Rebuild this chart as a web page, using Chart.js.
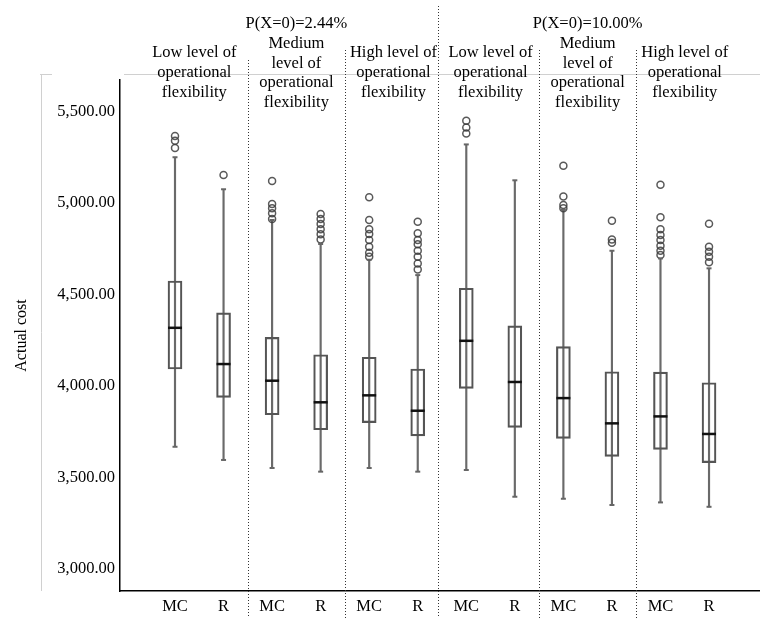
<!DOCTYPE html>
<html>
<head>
<meta charset="utf-8">
<script src="https://cdn.jsdelivr.net/npm/chart.js@4.4.0/dist/chart.umd.min.js"></script>
<style>
  body { margin: 0; background: #fff; }
  canvas { display: block; }
</style>
</head>
<body>
<canvas id="chart" width="760" height="618"></canvas>
<script>
// Box plot of actual cost, MC vs R, per flexibility level and P(X=0) scenario

const categories = ['MC', 'R', 'MC', 'R', 'MC', 'R', 'MC', 'R', 'MC', 'R', 'MC', 'R']
const whiskerLow = [3668, 3596, 3552, 3532, 3552, 3532, 3541, 3395, 3384, 3350, 3364, 3340]
const q1 = [4093, 3938, 3843, 3761, 3800, 3728, 3987, 3774, 3714, 3616, 3654, 3581]
const median = [4318, 4120, 4029, 3911, 3949, 3865, 4247, 4022, 3934, 3796, 3834, 3738]
const q3 = [4574, 4400, 4266, 4171, 4157, 4093, 4534, 4329, 4215, 4078, 4076, 4018]
const whiskerHigh = [5250, 5075, 4907, 4776, 4690, 4606, 5320, 5124, 4962, 4739, 4697, 4643]
const outliers = [
  [5300, 5340, 5366],
  [5153],
  [4912, 4944, 4971, 4994, 5120],
  [4801, 4829, 4856, 4885, 4912, 4940],
  [4706, 4728, 4761, 4798, 4830, 4856, 4907, 5031],
  [4637, 4670, 4706, 4739, 4774, 4798, 4834, 4898],
  [5380, 5413, 5450],
  [],
  [4971, 4989, 5035, 5204],
  [4783, 4801, 4903],
  [4716, 4739, 4767, 4798, 4825, 4856, 4922, 5100],
  [4676, 4706, 4734, 4761, 4887],
]
const yTicks = [3000, 3500, 4000, 4500, 5000, 5500]
const scenarios = ['P(X=0)=2.44%', 'P(X=0)=10.00%']
const groupLabels = [
  ['Low level of', 'operational', 'flexibility'],
  ['Medium', 'level of', 'operational', 'flexibility'],
  ['High level of', 'operational', 'flexibility'],
  ['Low level of', 'operational', 'flexibility'],
  ['Medium', 'level of', 'operational', 'flexibility'],
  ['High level of', 'operational', 'flexibility'],
]

const SERIF = "'Liberation Serif','DejaVu Serif',serif"
const pos = categories.map((c, i) => i + 1)

// frame lines, dividers and header texts
const decor = {
  id: 'decor',
  beforeDraw(chart) {
    const ctx = chart.ctx
    ctx.save()
    ctx.strokeStyle = '#d0d0d0'
    ctx.lineWidth = 1
    ctx.beginPath()
    ctx.moveTo(40, 74.5); ctx.lineTo(52, 74.5)
    ctx.moveTo(124, 74.5); ctx.lineTo(760, 74.5)
    ctx.moveTo(41.5, 74); ctx.lineTo(41.5, 591)
    ctx.stroke()
    ctx.restore()
  },
  afterDraw(chart) {
    const ctx = chart.ctx
    const x = chart.scales.x
    ctx.save()
    ctx.strokeStyle = '#333'
    ctx.lineWidth = 1
    ctx.setLineDash([1, 2])
    const dividers = [[2.5, 60], [4.5, 50], [6.42, 6], [8.5, 50], [10.5, 50]]
    dividers.forEach(([v, top]) => {
      const px = Math.round(x.getPixelForValue(v)) + 0.5
      ctx.beginPath()
      ctx.moveTo(px, top)
      ctx.lineTo(px, 618)
      ctx.stroke()
    })
    ctx.setLineDash([])
    ctx.fillStyle = '#000'
    ctx.font = '16.5px ' + SERIF
    ctx.textAlign = 'center'
    ctx.textBaseline = 'middle'
    scenarios.forEach((s, i) => {
      ctx.fillText(s, x.getPixelForValue(3.5 + i * 6), 24)
    })
    groupLabels.forEach((lines, i) => {
      const cx = x.getPixelForValue(1.5 + i * 2) - (i === 0 ? 5 : 0)
      const top = lines.length === 4 ? 43.5 : 53
      lines.forEach((t, j) => ctx.fillText(t, cx, top + j * 19.8))
    })
    ctx.restore()
  },
}

const outlierPoints = []
outliers.forEach((list, i) => list.forEach(v => outlierPoints.push({ x: pos[i], y: v })))

new Chart(document.getElementById('chart'), {
  type: 'bar',
  data: {
    datasets: [
      {
        type: 'scatter',
        data: pos.map((p, i) => ({ x: p, y: median[i] })),
        pointStyle: 'line',
        radius: 7,
        borderWidth: 2.5,
        borderColor: '#111',
      },
      {
        type: 'scatter',
        data: pos.map((p, i) => ({ x: p, y: whiskerLow[i] })).concat(pos.map((p, i) => ({ x: p, y: whiskerHigh[i] }))),
        pointStyle: 'line',
        radius: 2.5,
        borderWidth: 2,
        borderColor: '#666',
      },
      {
        type: 'scatter',
        data: outlierPoints,
        pointStyle: 'circle',
        radius: 3.5,
        borderWidth: 1.5,
        borderColor: 'rgba(60,60,60,0.85)',
        backgroundColor: 'rgba(255,255,255,0)',
      },
      {
        data: pos.map((p, i) => ({ x: p, y: [q1[i], q3[i]] })),
        backgroundColor: 'rgba(255,255,255,0)',
        borderColor: '#555',
        borderWidth: 1.5,
        borderSkipped: false,
        barThickness: 14,
        grouped: false,
      },
      {
        data: pos.map((p, i) => ({ x: p, y: [whiskerLow[i], whiskerHigh[i]] })),
        backgroundColor: '#6a6a6a',
        borderWidth: 0,
        barThickness: 1.5,
        grouped: false,
      },
    ],
  },
  options: {
    responsive: false,
    animation: false,
    devicePixelRatio: 1,
    layout: { autoPadding: false, padding: { top: 80, right: 0, bottom: 0, left: 0 } },
    plugins: { legend: { display: false }, tooltip: { enabled: false } },
    scales: {
      x: {
        type: 'linear',
        offset: false,
        min: -0.133,
        max: 13.05,
        grid: { display: false, drawTicks: false },
        border: { display: true, color: '#000', width: 1.5 },
        afterBuildTicks: s => { s.ticks = pos.map(v => ({ value: v })) },
        afterFit: s => { s.height = 27 },
        ticks: {
          padding: 6,
          color: '#000',
          font: { family: SERIF, size: 16.5 },
          maxRotation: 0,
          autoSkip: false,
          callback: v => categories[v - 1],
        },
      },
      y: {
        min: 2880,
        max: 5672,
        grid: { display: false, drawTicks: false },
        border: { display: true, color: '#000', width: 1.5 },
        afterBuildTicks: s => { s.ticks = yTicks.map(v => ({ value: v })) },
        afterFit: s => { s.width = 120 },
        title: {
          display: true,
          text: 'Actual cost',
          color: '#000',
          padding: { top: 12, bottom: 0 },
          font: { family: SERIF, size: 16 },
        },
        ticks: {
          padding: 5,
          color: '#000',
          font: { family: SERIF, size: 16.5 },
          callback: v => v.toLocaleString('en-US', { minimumFractionDigits: 2, maximumFractionDigits: 2 }),
        },
      },
    },
  },
  plugins: [decor],
})
</script>
</body>
</html>
